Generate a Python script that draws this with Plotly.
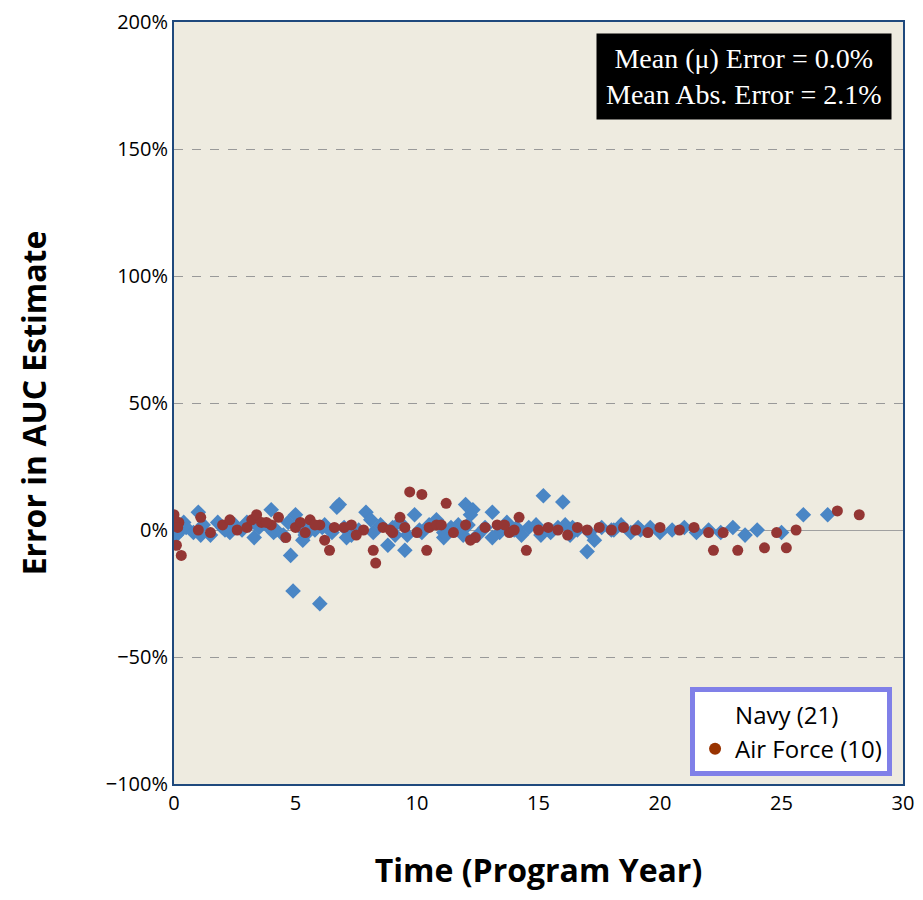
import plotly.graph_objects as go

navy_x = [0.0,0.1,0.2,0.3,0.5,0.8,1.0,1.2,1.5,1.8,2.0,2.3,2.5,2.8,3.0,3.3,3.5,3.8,4.0,4.2,4.5,4.8,4.9,5.0,5.2,5.4,5.6,5.8,6.0,6.2,6.5,6.8,7.0,7.3,7.6,7.9,8.2,8.5,8.8,9.0,9.3,9.6,9.9,10.2,10.5,10.8,11.1,11.4,11.7,12.0,12.2,12.5,12.8,13.1,13.4,13.7,14.0,14.3,14.6,14.9,15.2,15.5,15.8,16.0,16.3,16.6,17.0,17.3,17.6,18.0,18.4,18.8,19.2,19.6,20.0,20.5,21.0,21.5,22.0,22.5,23.0,23.5,24.0,25.0,25.9,26.9,
          0.4,1.1,2.1,3.1,4.1,5.1,6.1,7.1,8.1,9.1,10.1,11.1,12.1,13.1,14.1,15.1,16.1,17.1,18.1,19.1,5.3,12.3,16.4,4.7,6.7,9.5,11.9]
navy_y = [1,-2,2,0,1,-1,7,2,-2,3,1,-1,2,0,3,-3,1,2,8,0,-2,-10,-24,6,1,-2,3,0,-29,2,-1,10,1,-2,0,7,-1,2,-6,1,3,-2,6,-1,2,4,-3,1,2,10,6,-2,1,7,-1,3,0,-2,1,2,13.5,-1,1,11,-2,0,-8.5,-4,1,0,2,-1,0,1,-1,0,1,-1,0,-1,1,-2,0,-1,6,6,
          3,-2,0,2,-1,3,1,-3,4,-2,0,-1,2,-3,1,-2,2,-1,0,1,-4,8,1,3,9,-8,-2]

af_x = [0.0,0.05,0.1,0.2,0.3,1.0,1.1,2.0,2.3,3.0,3.2,3.4,3.6,4.0,4.3,5.0,5.2,5.4,5.6,6.0,6.2,6.4,7.0,7.3,7.8,8.2,8.3,8.6,9.0,9.3,9.7,10.0,10.2,10.5,10.8,11.2,11.5,12.0,12.4,12.8,13.3,13.8,14.2,14.5,15.0,15.4,15.8,16.2,16.6,17.0,17.5,18.0,18.5,19.0,19.5,20.0,20.8,21.4,22.0,22.2,22.6,23.2,24.3,24.8,25.2,25.6,27.3,28.2,
        0.15,1.5,2.6,3.8,4.6,5.8,6.6,7.5,8.9,9.5,10.4,11.0,12.2,13.6,14.0]
af_y = [6,2,-6,3,-10,0,5,2,4,1,4,6,3,2,5,1,3,-1,4,2,-4,-8,1,2,0,-8,-13,1,-1,5,15,-1,14,1,2,10.5,-1,2,-3,1,2,-1,5,-8,0,1,0,-2,1,0,1,0,1,0,-1,1,0,1,-1,-8,-1,-8,-7,-1,-7,0,7.5,6,
        1,-1,0,3,-3,2,1,-2,0,1,-8,2,-4,2,0]

fig = go.Figure()
fig.add_trace(go.Scatter(x=navy_x, y=navy_y, mode="markers", showlegend=False,
    marker=dict(symbol="diamond", size=12, color="#4A86C5")))
fig.add_trace(go.Scatter(x=af_x, y=af_y, mode="markers", showlegend=False,
    marker=dict(symbol="circle", size=11, color="#943634")))
fig.add_trace(go.Scatter(x=[None], y=[None], mode="markers", name="Navy (21)",
    marker=dict(symbol="diamond", size=11, color="rgba(0,0,0,0)")))
fig.add_trace(go.Scatter(x=[None], y=[None], mode="markers", name="Air Force (10)",
    marker=dict(symbol="circle", size=13, color="#993300")))

fig.update_layout(
    width=923, height=900, paper_bgcolor="white", plot_bgcolor="#EEEBE0",
    margin=dict(l=166, r=28, t=14, b=124),
    font=dict(family="Open Sans", color="black", size=20),
    xaxis=dict(range=[0,30], dtick=5, showgrid=False, zeroline=False, ticks="", automargin=False,
               showline=True, linecolor="#1F497D", linewidth=2, mirror=True,
               title=dict(text="<b>Time (Program Year)</b>", font=dict(size=32), standoff=45),
               tickfont=dict(size=20)),
    yaxis=dict(range=[-100,200], dtick=50, ticksuffix="%", showgrid=True, automargin=False,
               gridcolor="#999999", griddash="dash", gridwidth=1,
               zeroline=True, zerolinecolor="#A0A0A0", zerolinewidth=1,
               showline=True, linecolor="#1F497D", linewidth=2, mirror=True, ticks="",
               title=dict(text="<b>Error in AUC Estimate</b>", font=dict(size=32), standoff=50),
               tickfont=dict(size=20)),
    legend=dict(x=0.985, y=0.01, xanchor="right", yanchor="bottom",
                bgcolor="white", bordercolor="#8080E8", borderwidth=5,
                font=dict(size=24), itemsizing="constant"),
)
fig.add_annotation(xref="paper", yref="paper", x=0.985, y=0.985, xanchor="right", yanchor="top",
    text="Mean (μ) Error = 0.0%<br>Mean Abs. Error = 2.1%", showarrow=False,
    bgcolor="black", font=dict(family="Liberation Serif", size=28, color="white"),
    borderpad=9, align="center")
fig.write_html("out.html")
